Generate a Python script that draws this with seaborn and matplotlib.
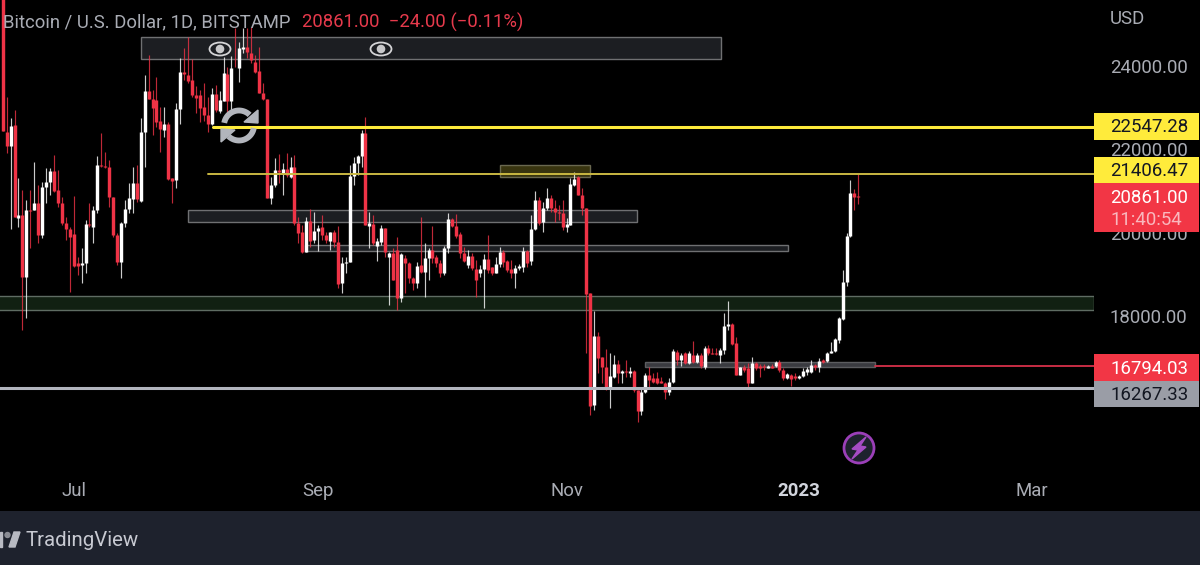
import numpy as np
import pandas as pd
import matplotlib
matplotlib.use("Agg")
import matplotlib.pyplot as plt
import matplotlib.patches as mpatches
import seaborn as sns

sns.set_theme(style="dark")
plt.rcParams["font.family"] = ["Roboto", "DejaVu Sans"]

# daily candles, first one is cut by the top of the chart
opens = [26500,22424,22088,22576,20360,20424,18944,20544,20544,20704,19944,21088,21208,21480,21024,20704,20240,20080,19960,19264,
         19216,19280,20208,20144,20544,21624,21608,21584,20848,19944,19304,20224,20560,20808,21184,20768,22424,23400,23200,23184,
         22680,22464,22600,21304,21264,22968,23848,23784,23664,23304,23304,23008,22824,22600,23328,22928,23168,23808,23168,23984,
         23944,24408,24448,24320,24104,23888,23344,23200,20824,21144,21504,21408,21520,21344,21568,20240,20024,19544,20288,19824,
         20040,20144,19944,19808,20008,19784,18784,19280,19304,21360,21664,21840,22384,20168,20208,19688,19768,20104,19408,19520,
         19584,18424,19400,19280,18920,18784,19224,19064,19400,19584,19424,19280,19040,19624,20328,20160,19960,19520,19224,19440,
         19120,19024,19120,19368,19184,19040,19248,19544,19320,19120,19024,19144,19168,19568,19328,20080,20784,20264,20584,20824,
         20600,20504,20480,20128,20184,21144,21328,20904,20584,18544,15864,17528,17008,16768,16264,16544,16848,16624,16680,16640,
         16680,16224,15728,16184,16584,16504,16504,16440,16400,16184,16424,17144,16944,17104,16864,17064,16904,17064,16784,17224,
         17120,17120,17064,17184,17760,17800,17344,16584,16768,16744,16400,16864,16800,16800,16760,16800,16800,16904,16704,16504,
         16584,16560,16504,16560,16664,16664,16824,16784,16944,16920,17104,17160,17424,17920,18824,19920,20960,20888]
highs = [26500,23264,22744,22944,21320,21024,20784,21024,21704,21144,21224,21544,21560,21864,21504,20864,20384,20144,20880,19424,
         19624,20304,20704,20640,21840,22384,21944,21744,20864,19984,20264,20784,21184,21584,21624,22744,23784,24264,23424,23744,
         23024,23008,22664,21304,23104,24184,24424,24688,24160,23520,23424,23600,23264,23480,23544,23408,24224,23984,24240,24904,
         24584,24904,24904,24944,24264,24448,23584,23200,21344,21784,21888,21664,21904,21824,21864,20368,20184,20384,20568,20504,
         20184,20424,20024,20024,20064,20168,19424,19424,21624,21808,21864,22464,22784,20504,20424,19864,20184,20104,19544,19624,
         19888,19520,19464,19304,18944,19304,20384,19744,19624,20160,19464,19344,19680,20464,20344,20448,20024,19664,19584,19504,
         19344,19224,19488,19944,19184,19424,19664,19584,19344,19344,19224,19248,19664,19584,20424,21008,20848,20744,21064,20904,
         20784,20664,20784,20344,21304,21464,21368,21064,20584,18560,18128,17624,17024,17200,17104,17064,16944,16704,16944,16784,
         16704,16224,16240,16624,16768,16624,16664,16544,16424,16504,17200,17184,17104,17144,17168,17400,17104,17104,17280,17304,
         17224,17224,17224,18080,18360,17824,17504,16784,16824,16864,17024,16904,16848,16848,16824,16848,16920,16944,16744,16624,
         16608,16624,16584,16744,16768,16944,16848,16984,16960,17144,17384,17464,17984,19104,19984,21264,21040,21408]
lows = [22448,21904,20080,20384,20144,17664,17944,19624,20544,19744,19864,20704,20904,20984,20624,20184,19824,18584,19184,18984,
        18784,19024,20144,19744,20464,21584,21544,20624,19904,19224,18904,20144,20464,20464,20744,20744,21584,23200,22344,22544,
        21944,22288,21264,20704,21064,22608,23664,23584,23264,22864,22664,22688,22424,22584,22904,22864,23168,22864,22904,23968,
        23624,24304,24184,24064,23824,23344,23184,20824,20688,21104,21184,20904,21344,21304,20184,19744,19504,19544,19664,19744,
        19568,19824,19744,19584,19664,18664,18544,19024,19304,21144,21384,21584,20184,19624,19704,19328,19704,19424,18264,18864,
        18144,18344,18544,18784,18624,18664,19024,18464,18864,19264,19184,18944,18984,19504,20144,19864,19384,19304,19144,19104,
        18464,18944,18184,19024,18984,19024,19184,19184,19064,18904,18664,19104,19064,19184,19224,20064,20184,20024,20544,20504,
        20264,20304,20064,20024,20184,21120,20904,20424,17120,15624,15744,16624,16384,16224,15784,16504,16384,16400,16544,16544,
        16184,15464,15624,16144,16304,16384,16368,16384,16000,16104,16400,16824,16800,16848,16848,16864,16864,16744,16720,17064,
        17080,17064,16864,17088,17664,17304,16584,16584,16664,16280,16384,16704,16528,16704,16744,16744,16784,16664,16464,16480,
        16320,16464,16480,16544,16584,16624,16704,16664,16880,16904,17104,17144,17344,17904,18720,19904,20544,20688]
closes = [22448,22088,22560,20384,20424,18944,20544,20512,20704,19944,21104,21208,21480,21008,20704,20240,20080,19904,19208,19208,
          19280,20208,20192,20544,21624,21600,21584,20848,19944,19304,20224,20560,20824,21184,20800,22424,23400,23216,22984,22664,
          22480,22600,21288,21248,22968,23864,23808,23640,23304,23224,22984,22824,22600,23320,22944,23184,23824,23168,23960,23968,
          24424,24448,24344,24144,23864,23344,23200,20824,21144,21504,21464,21520,21384,21568,20240,19984,19544,20288,19808,20048,
          20120,19944,19824,20008,19784,18768,19280,19304,21368,21680,21840,22384,20184,20224,19760,19800,20104,19544,19520,18864,
          18424,19488,19280,18904,18784,19208,19064,19400,19584,19400,19280,19024,19624,20328,20160,19920,19520,19328,19440,19144,
          18864,19120,19368,19104,19024,19248,19544,19304,19104,19024,19144,19200,19568,19280,20080,20784,20224,20584,20824,20600,
          20504,20464,20144,20200,21160,21288,20904,20584,18528,15840,17528,16984,16768,16264,16560,16848,16624,16688,16656,16688,
          16224,15728,16184,16584,16464,16424,16400,16400,16184,16424,17168,16944,17064,16864,17120,16904,17064,16800,17224,17104,
          17088,17088,17184,17760,17800,17328,16584,16768,16704,16400,16864,16744,16744,16768,16808,16760,16904,16704,16504,16600,
          16480,16504,16568,16688,16720,16824,16768,16928,16904,17120,17160,17440,17944,18824,19920,20960,20864,20864]
first_day = "2022-06-12"

price_ticks = [18000, 20000, 22000, 24000]
tick_dates = ["2022-06-30", "2022-08-31", "2022-11-02", "2022-12-31", "2023-02-28"]
tick_labels = ["Jul", "Sep", "Nov", "2023", "Mar"]

line_upper = 22547.28
line_lower = 21406.47
line_red = 16794.03
line_grey = 16267.33

red = "#ef3346"
yellow = "#ffeb3b"
grey_text = "#a9acb4"

candles = pd.DataFrame({"open": opens, "high": highs, "low": lows, "close": closes})
candles["date"] = pd.date_range(first_day, periods=len(candles), freq="D")
candles["direction"] = np.where(candles["close"] >= candles["open"], "up", "down")

wicks = candles.melt(id_vars=["date", "direction"], value_vars=["high", "low"], value_name="price")
bodies = candles.melt(id_vars=["date", "direction"], value_vars=["open", "close"], value_name="price")

fig = plt.figure(figsize=(12, 5.65), dpi=100, facecolor="black")
ax = fig.add_axes([0, 95 / 565, 1094 / 1200, 470 / 565], facecolor="black")

# helper for the pixel positions of the drawings on the chart
day0 = pd.Timestamp(first_day)
def px_date(px):
    return day0 + pd.Timedelta(days=(px - 2.7) / 3.943)
def px_price(py):
    return 25584 - 24 * py

def zone(x0, x1, y0, y1, fill, edge, lw=1.0):
    ax.add_patch(mpatches.Rectangle(
        (matplotlib.dates.date2num(px_date(x0)), px_price(y1)),
        matplotlib.dates.date2num(px_date(x1)) - matplotlib.dates.date2num(px_date(x0)),
        px_price(y0) - px_price(y1),
        facecolor=fill, edgecolor=edge, linewidth=lw, zorder=1))

zone(141, 721, 37, 59, "#1c1e22", "#6f7072")
zone(500, 590, 165, 177, "#38340f", "#6a6850")
zone(188, 637, 210, 222, "#1c1e22", "#6f7072")
zone(305, 788, 245.5, 251, "#1c1e22", "#6f7072")
zone(-5, 1094, 296.5, 310, "#112012", "#5f6c63")
zone(645, 875, 362, 367.5, "#3a3b40", "#5c5d60")

palette = {"up": "#ffffff", "down": red}
# red after white, neighbouring bodies touch and the red ones sit on top in the reference
hue_order = ["up", "down"]
sns.lineplot(data=wicks, x="date", y="price", units="date", hue="direction", hue_order=hue_order, estimator=None,
             palette=palette, legend=False, linewidth=0.85, alpha=0.8, solid_capstyle="butt", ax=ax, zorder=3)
sns.lineplot(data=bodies, x="date", y="price", units="date", hue="direction", hue_order=hue_order, estimator=None,
             palette=palette, legend=False, linewidth=2.45, solid_capstyle="butt", ax=ax, zorder=3)

ax.plot([px_date(213), px_date(1094)], [line_upper, line_upper], color=yellow, lw=2.2, zorder=4)
ax.plot([px_date(208), px_date(1094)], [line_lower, line_lower], color="#c9b842", lw=1.4, zorder=4)
ax.plot([px_date(875), px_date(1094)], [line_red, line_red], color="#d6304a", lw=1.3, zorder=4)
ax.plot([px_date(-5), px_date(1094)], [line_grey, line_grey], color="#b2b5be", lw=2.2, zorder=4)

ax.set_xlim(px_date(0), px_date(1094))
ax.set_ylim(px_price(470), px_price(0))
ax.set_xlabel("")
ax.set_ylabel("")
ax.set_xticks(pd.to_datetime(tick_dates))
ax.set_xticklabels(tick_labels)
ax.yaxis.tick_right()
ax.set_yticks(price_ticks)
ax.set_yticklabels([f"{p:.2f}" for p in price_ticks])
ax.tick_params(axis="both", length=0, labelsize=13.4, labelcolor=grey_text)
ax.tick_params(axis="y", pad=11.5)
ax.tick_params(axis="x", pad=9)
for lab in ax.get_xticklabels():
    if lab.get_text() == "2023":
        lab.set_fontweight("bold")
        lab.set_color("#d1d4dc")
sns.despine(ax=ax, left=True, bottom=True, right=True, top=True)

# overlay in pixel coordinates for the header, price tags and icons
ov = fig.add_axes([0, 0, 1, 1], facecolor="none")
ov.set_xlim(0, 1200)
ov.set_ylim(565, 0)
ov.axis("off")

ov.add_patch(mpatches.Rectangle((0, 511), 1200, 54, facecolor="#1e222d", edgecolor="none"))
ov.add_patch(mpatches.Polygon([(0, 532), (2, 532), (2, 547), (0, 547)], color="#b8bac2"))
ov.add_patch(mpatches.Circle((7.5, 535), 2.5, color="#8a8c94"))
ov.add_patch(mpatches.Polygon([(14, 532), (20, 532), (15, 547), (9, 547)], color="#b8bac2"))
ov.text(26, 541, "TradingView", color="#c8cad2", fontsize=14.7, va="center", ha="left")

ov.text(3, 22, "Bitcoin / U.S. Dollar, 1D, BITSTAMP", color=grey_text, fontsize=13.3, va="center", ha="left")
ov.text(302, 22, "20861.00  \u221224.00 (\u22120.11%)", color="#e63a4c", fontsize=13.3, va="center", ha="left")
ov.text(1110, 19, "USD", color=grey_text, fontsize=13.4, va="center", ha="left")

tags = [
    (113, 140, yellow, "22547.28", "#131722"),
    (157, 183, yellow, "21406.47", "#131722"),
    (183, 232, "#f23645", None, None),
    (354, 381, "#f23645", "16794.03", "white"),
    (381, 407, "#9a9da6", "16267.33", "#131722"),
]
for y0, y1, fill, txt, col in tags:
    ov.add_patch(mpatches.Rectangle((1094, y0), 105, y1 - y0, facecolor=fill, edgecolor="none"))
    if txt:
        ov.text(1110, (y0 + y1) / 2 + 1, txt, color=col, fontsize=13.4, va="center", ha="left")
ov.text(1110, 198, "20861.00", color="white", fontsize=13.4, va="center", ha="left")
ov.text(1110, 220, "11:40:54", color="#f9b8be", fontsize=13.4, va="center", ha="left")

for cx in (220, 381):
    ov.add_patch(mpatches.Ellipse((cx, 49), 21, 13, facecolor="#1c1e22", edgecolor="#d4d4d6", lw=1.3))
    ov.add_patch(mpatches.Circle((cx, 49), 3.6, color="#c8c8ca"))

# refresh icon
t_top = np.radians(np.linspace(190, 315, 30))
t_bot = np.radians(np.linspace(10, 135, 30))
for t in (t_top, t_bot):
    ov.plot(239 + 15 * np.cos(t), 125.5 + 15 * np.sin(t), color="#b2b5bc", lw=4.2, solid_capstyle="butt")
ov.add_patch(mpatches.Polygon([(258, 110), (258, 123), (244, 122)], color="#b2b5bc"))
ov.add_patch(mpatches.Polygon([(221, 142), (221, 129), (235, 130)], color="#b2b5bc"))

# lightning icon
ov.add_patch(mpatches.Circle((859, 448), 15, facecolor="#1e222d", edgecolor="#9b3fb8", lw=2))
ov.add_patch(mpatches.Polygon([(866, 437), (852, 449), (858, 450), (852, 459), (866, 447), (860, 446)], color="#a64cc4"))

fig.savefig("out.png", dpi=100)
